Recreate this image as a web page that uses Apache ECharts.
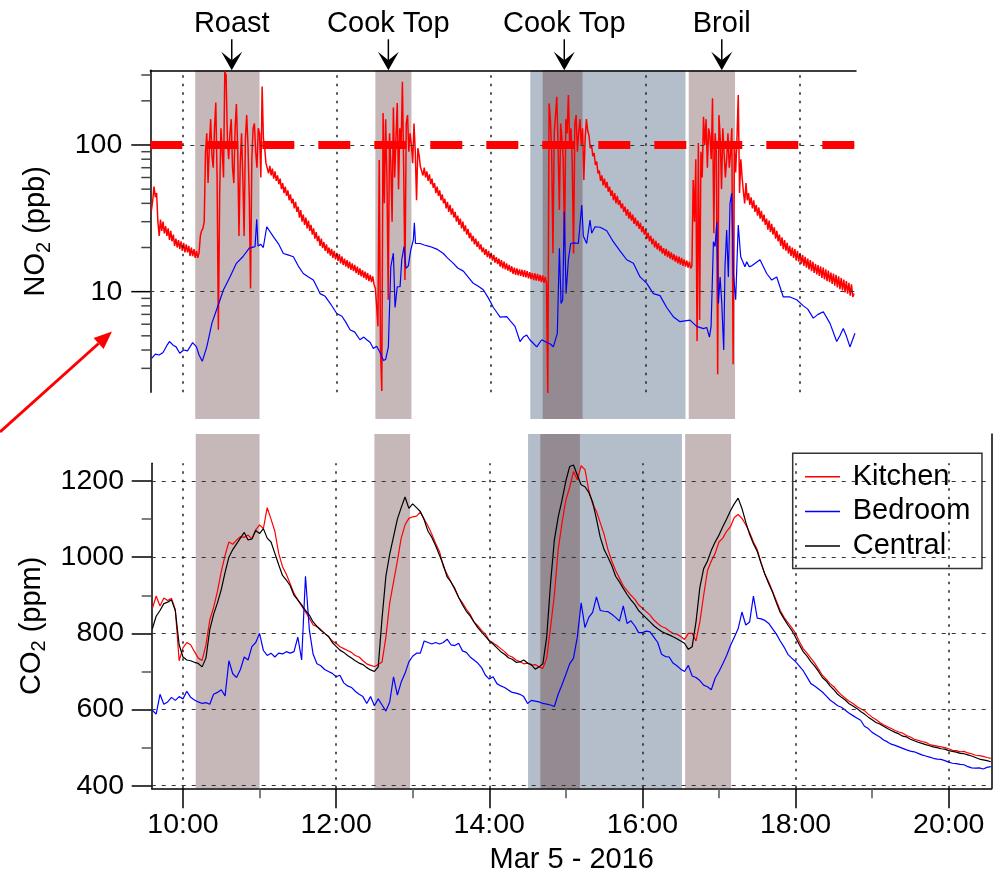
<!DOCTYPE html>
<html>
<head>
<meta charset="utf-8">
<title>Indoor NO2 and CO2 - Mar 5 2016</title>
<script src="https://cdn.jsdelivr.net/npm/echarts@6/dist/echarts.min.js"></script>
<style>
  html, body { margin: 0; padding: 0; background: #fff; }
  #chart { width: 1001px; height: 873px; }
</style>
</head>
<body>
<div id="chart"></div>
<script>
// Times are minutes after midnight on Mar 5, 2016.

// Kitchen NO2 (ppb), one reading per minute starting 09:36
const kitchenNO2Start = 576;
const kitchenNO2Step = 1;
const kitchenNO2 = [
  36, 42, 52, 44, 47, 30, 24, 31, 26, 30,
  25, 28, 24, 27, 22.5, 26, 22, 24.5, 20.5, 23,
  20, 22.5, 19.5, 22, 19, 21.5, 18.5, 21, 18.5, 20.5,
  17.5, 20, 17.5, 19.5, 17, 19, 17, 18.5, 24, 26,
  27, 30, 90, 120, 55, 100, 150, 85, 70, 130,
  195, 60, 5.5, 45, 130, 90, 60, 316, 300, 110,
  80, 120, 150, 70, 55, 130, 190, 95, 24, 75,
  120, 60, 24, 110, 160, 100, 45, 10.5, 80, 130,
  140, 90, 70, 130, 120, 60, 250, 110, 95, 75,
  74, 64, 72, 62, 69, 59, 66, 57, 62, 54,
  59, 50, 55, 47, 52, 45, 49, 42, 46, 40,
  43, 37, 41, 35, 38, 32, 36, 30, 33.5, 28.5,
  32, 27, 30.5, 26, 28.5, 24.5, 27, 23, 25.5, 22,
  24, 20.5, 23, 19.8, 21.8, 19, 21, 18.2, 20, 17.6,
  19.6, 17, 19, 16.6, 18.4, 16.2, 18, 15.6, 17.4, 15.2,
  16.8, 14.8, 16.4, 14.4, 16, 14.1, 15.6, 13.8, 15.2, 13.4,
  14.8, 13, 14.4, 12.7, 14, 12.4, 13.7, 12.1, 13.4, 11.8,
  13, 11.6, 12.7, 11.2, 10.5, 8, 5.8, 79, 4, 2.1,
  165, 40, 150, 60, 8.8, 120, 75, 30, 180, 60,
  110, 193, 50, 130, 95, 270, 70, 12, 140, 160,
  90, 120, 100, 75, 140, 90, 42, 95, 85, 71,
  72, 62, 70, 60, 66, 57, 63, 54, 59, 51,
  55, 47, 52, 45, 49, 42, 46, 40, 43, 37,
  41, 35, 39, 33.5, 37, 32, 35, 30, 33, 28.5,
  31.5, 27, 30, 25.8, 28.3, 24.5, 26.8, 23.2, 25.2, 22,
  24, 21, 23, 20.2, 22, 19.4, 21, 18.6, 20, 17.8,
  19.5, 17.2, 19, 16.8, 18.4, 16.3, 17.8, 15.8, 17.2, 15.4,
  16.8, 14.8, 16.4, 14.4, 16, 14.2, 15.6, 13.9, 15.2, 13.6,
  14.9, 13.2, 14.6, 13, 14.4, 12.9, 14.2, 12.8, 14.1, 12.6,
  14, 12.5, 13.8, 12.3, 13.6, 12.2, 13.4, 12, 13.3, 11.9,
  13.2, 11.8, 13, 11.6, 12.9, 11.5, 12.6, 11.4, 2.0, 192,
  150, 90, 18.3, 120, 160, 213, 95, 36, 140, 110,
  80, 20.3, 150, 120, 219, 100, 130, 75, 18.2, 140,
  160, 90, 120, 150, 100, 130, 57.7, 110, 150, 125,
  116, 95, 100, 84, 88, 73, 77, 64, 67, 57,
  62, 53, 59, 51, 56, 48, 52, 45, 49, 42,
  47, 40, 45, 39, 42, 37, 40, 35, 38, 33,
  36.5, 31.5, 35, 30.5, 33.5, 29, 32, 28, 30.5, 26.8,
  29.5, 25.5, 28, 24.5, 26.5, 23, 25.2, 22, 24, 21,
  23, 20, 22.2, 19.4, 21.4, 18.8, 20.6, 18.2, 19.8, 17.6,
  19.6, 17.2, 19, 16.8, 18.5, 16.4, 18, 16, 17.6, 15.6,
  17.3, 15.3, 17, 15, 16.6, 14.8, 16.3, 14.6, 16, 14.4,
  15, 57.7, 30, 80, 4.6, 103, 6.4, 90, 60, 156,
  100, 150, 70, 130, 114, 80, 208, 25, 120, 90,
  2.74, 160, 110, 50, 130, 88, 60, 80, 120, 70,
  88, 130, 3.2, 100, 65, 110, 219, 47, 80, 60,
  48, 40, 55, 42, 47, 39, 44, 37, 42, 35,
  39, 33, 37.5, 31.5, 35.5, 30, 33.5, 28.5, 31.5, 26.5,
  30.5, 25.5, 29, 24.5, 27.5, 23, 26, 22, 24.5, 20.5,
  23.5, 19.5, 22.5, 19, 21.5, 18.2, 20.5, 17.5, 20, 17,
  19.5, 16.3, 19, 16, 18.3, 15.5, 17.8, 15, 17.3, 14.6,
  16.8, 14.2, 16.4, 13.8, 16, 13.4, 15.5, 13.1, 15.2, 12.8,
  14.9, 12.4, 14.6, 12.1, 14.2, 11.8, 13.9, 11.6, 13.5, 11.3,
  13.3, 11, 13, 10.7, 12.7, 10.4, 12.4, 10.2, 12.1, 9.9,
  11.8, 9.7, 11.5, 9.4, 11.2, 9.2, 9.7
];

// Bedroom NO2 (ppb), irregular sampling
const bedroomNO2Time = [
  576, 579, 582, 585, 588, 590, 593, 595, 598, 601,
  604, 608, 611, 613, 615.5, 619, 623, 627, 632, 637,
  642, 647, 652, 656.5, 657.8, 658.8, 661, 662.9, 665.6, 670.7,
  675, 678.5, 682, 686.3, 690, 694, 698, 701.8, 704, 707,
  711, 715, 720, 724, 727, 730.3, 734, 738, 741, 743.3,
  746, 748.4, 751, 754, 756.2, 758, 760.1, 762, 764, 765.3,
  767, 769.2, 770.5, 772.3, 773.8, 775.6, 777.5, 779.5, 780.3, 781.2,
  784.7, 788, 792.5, 797.7, 802.8, 806, 810.6, 814, 818.4, 822,
  826.1, 830, 833.9, 838, 841.7, 845, 846.9, 852.1, 855, 858.5,
  862.4, 865, 867.6, 870, 872.7, 875.4, 879.3, 883.2, 886, 888.3,
  891.4, 893, 894.3, 895.6, 896.8, 898.2, 900, 901.8, 904.4, 907.7,
  909, 910.4, 911.6, 914.2, 916.8, 918.1, 920.7, 924.6, 929.8, 934.9,
  940.1, 945.3, 950.5, 955.7, 960.9, 966, 971.2, 976.4, 981.5, 986.7,
  991.9, 994.5, 999.7, 1004.9, 1007.5, 1009.6, 1010.9, 1012.7, 1014, 1015.3,
  1016.6, 1017.9, 1019.2, 1020.7, 1021.7, 1023, 1024.3, 1025.6, 1026.9, 1028.2,
  1030, 1032, 1033.9, 1037.2, 1038.6, 1040.5, 1042.5, 1048.9, 1054.1, 1058,
  1061.9, 1067, 1072.2, 1077.4, 1082.6, 1086, 1090.3, 1094, 1098.1, 1103.3,
  1108.5, 1111, 1113.6, 1116, 1118.8, 1122.7
];
const bedroomNO2 = [
  3.5, 3.75, 3.7, 3.85, 4.3, 4.57, 4.3, 4.22, 3.8, 4.0,
  3.95, 4.49, 4.2, 3.7, 3.35, 4.2, 6.1, 7.7, 10.3, 12.6,
  15.6, 17.3, 19.8, 20.3, 31.2, 20.5, 21, 20, 27.7, 23.7,
  21, 18.2, 17.8, 17.3, 15, 13.3, 12.6, 12, 11, 9.7,
  9.3, 8.3, 7.1, 6.8, 6.2, 5.5, 5.3, 4.7, 4.9, 4.7,
  4.5, 4.1, 4.25, 3.8, 3.4, 3.45, 4.2, 14.8, 18.3, 7.8,
  10.8, 10.8, 16.5, 20.3, 14.4, 15, 19.2, 22.5, 29.5, 21.3,
  21.3, 20.8, 20.3, 19.5, 18.2, 17, 15.6, 14.5, 13.8, 12.6,
  11.4, 10.9, 10.3, 9, 7.8, 7.1, 6.7, 6.75, 6.3, 5.8,
  4.57, 4.9, 5.06, 4.7, 4.45, 4.2, 4.7, 4.5, 4.4, 4.2,
  5.2, 19.8, 8.3, 8.8, 35.2, 9.7, 16.5, 21.3, 21.5, 21.3,
  28.5, 39, 24, 21.3, 30.8, 25, 27.7, 27.5, 26, 21.9,
  19, 16.5, 15.6, 12.6, 11.4, 9.7, 9.4, 7.8, 6.75, 6.24,
  6.35, 6.4, 5.8, 5.6, 5.7, 4.9, 5.8, 21.9, 20.3, 29.8,
  8.3, 12.6, 8.3, 4.0, 14.8, 26.3, 12.6, 40, 46.8, 13.3,
  8.8, 28.5, 17.3, 14.8, 16, 14.8, 15, 16.5, 13.3, 12,
  12.6, 9.2, 9.2, 8.8, 8, 7.6, 6.6, 7.0, 7.3, 6.08,
  4.57, 5.0, 5.6, 5.0, 4.2, 5.2
];

// CO2 (ppm), one reading every 3 minutes starting 09:36
const co2Start = 576;
const co2Step = 3;
const kitchenCO2 = [
  865, 898, 872, 893, 886, 892, 862, 728, 762, 776,
  770, 752, 735, 729, 770, 835, 868, 910, 962, 1005,
  1040, 1034, 1045, 1054, 1052, 1058, 1048, 1072, 1085, 1075,
  1130, 1100, 1068, 1010, 975, 955, 930, 905, 888, 872,
  856, 840, 822, 818, 810, 800, 792, 780, 774, 765,
  760, 755, 750, 742, 738, 728, 720, 716, 713, 718,
  725, 790, 880, 935, 990, 1050, 1085, 1102, 1106, 1108,
  1118, 1100, 1082, 1060, 1036, 1015, 975, 955, 935, 915,
  894, 880, 864, 850, 830, 820, 808, 798, 781, 775,
  768, 760, 752, 742, 738, 730, 726, 720, 722, 716,
  718, 712, 708, 735, 815, 900, 1020, 1090, 1150, 1183,
  1225, 1203, 1240, 1230, 1175, 1140, 1120, 1090, 1060, 1020,
  990, 965, 945, 925, 912, 900, 890, 875, 866, 857,
  848, 835, 826, 818, 814, 806, 800, 798, 792, 784,
  800, 800, 780, 830, 900, 965, 990, 1010, 1040, 1050,
  1068, 1080, 1104, 1112, 1102, 1085, 1065, 1040, 1020, 985,
  955, 935, 910, 885, 860, 842, 828, 815, 800, 778,
  760, 748, 735, 722, 706, 690, 680, 668, 660, 648,
  638, 630, 622, 616, 608, 602, 597, 588, 580, 574,
  566, 560, 555, 550, 545, 541, 538, 532, 528, 522,
  519, 516, 514, 508, 506, 504, 502, 500, 497, 493,
  492, 489, 490, 486, 484, 480, 479, 477, 474, 472
];
const bedroomCO2 = [
  598, 588, 640, 614, 620, 632, 624, 634, 628, 648,
  632, 625, 620, 616, 618, 614, 640, 645, 652, 636,
  728, 694, 684, 705, 738, 730, 765, 776, 800, 755,
  742, 748, 738, 748, 746, 752, 748, 752, 790, 730,
  950, 810, 745, 720, 715, 705, 700, 695, 686, 690,
  670, 662, 658, 648, 640, 634, 616, 634, 610, 628,
  612, 596, 620, 686, 638, 672, 695, 725, 740, 748,
  748, 780, 776, 772, 776, 772, 776, 785, 770, 768,
  774, 754, 750, 738, 730, 722, 710, 690, 680, 686,
  668, 662, 658, 651, 645, 643, 640, 634, 616, 624,
  622, 620, 616, 614, 612, 608, 640, 665, 692, 720,
  735, 790, 880, 815, 842, 855, 896, 860, 858, 857,
  850, 842, 832, 872, 826, 833, 820, 802, 802, 806,
  804, 790, 776, 745, 739, 738, 722, 715, 706, 700,
  716, 688, 684, 676, 664, 660, 652, 682, 700, 720,
  742, 768, 790, 812, 856, 822, 830, 898, 840, 838,
  834, 826, 812, 798, 780, 764, 745, 735, 726, 714,
  702, 685, 668, 662, 654, 646, 636, 625, 618, 610,
  606, 598, 590, 584, 578, 572, 556, 550, 540, 534,
  528, 520, 515, 509, 506, 502, 498, 494, 491, 489,
  485, 481, 478, 475, 472, 470, 469, 466, 462, 459,
  458, 456, 455, 450, 447, 446, 447, 444, 448, 450
];
const centralCO2 = [
  812, 845, 860, 878, 882, 888, 860, 770, 738, 730,
  728, 724, 721, 712, 735, 810, 850, 880, 915, 960,
  1000, 1020, 1035, 1050, 1065, 1045, 1048, 1070, 1062, 1075,
  1050, 1040, 1010, 980, 952, 940, 925, 900, 888, 875,
  860, 848, 830, 818, 808, 800, 792, 776, 766, 756,
  750, 742, 735, 728, 722, 718, 710, 704, 700, 712,
  840, 950, 1008, 1054, 1100, 1130, 1158, 1128, 1140, 1130,
  1120, 1098, 1068, 1052, 1030, 1005, 980, 948, 935, 918,
  895, 875, 858, 846, 830, 815, 803, 792, 780, 772,
  762, 752, 745, 736, 732, 724, 725, 730, 722, 718,
  706, 712, 720, 790, 930, 1045, 1105, 1150, 1200, 1238,
  1242, 1215, 1190, 1185, 1170, 1145, 1100, 1052, 1020, 1000,
  978, 950, 935, 918, 902, 888, 876, 860, 850, 840,
  830, 820, 812, 805, 800, 796, 791, 786, 780, 774,
  758, 765, 830, 920, 970, 990, 1018, 1040, 1058, 1080,
  1100, 1122, 1140, 1155, 1128, 1092, 1060, 1035, 1015, 984,
  955, 930, 908, 880, 855, 838, 822, 808, 790, 770,
  752, 740, 726, 714, 700, 684, 675, 662, 652, 640,
  632, 625, 615, 609, 603, 595, 588, 580, 573, 566,
  562, 556, 550, 545, 540, 536, 530, 528, 522, 518,
  514, 511, 508, 505, 502, 500, 497, 496, 492, 490,
  488, 485, 484, 481, 478, 474, 470, 468, 466, 463
];

// Cooking events (start, end) and the longer shaded period around the second cook-top use
const cookingPeriods = [[610, 660], [750, 778], [880, 911], [993.5, 1029.5]];
const shadedPeriods = [[870.4, 991]];

// Event annotations above the NO2 panel
const eventTimes = [638.4, 760.1, 896.8, 1019.2];
const eventLabels = ['Roast', 'Cook Top', 'Cook Top', 'Broil'];

// Axis ranges and ticks
const topTimeRange = [575.1, 1123.5];
const bottomTimeRange = [575.5, 1233.7];
const no2Range = [2.06, 323];
const co2Range = [393.2, 1246.5];
const hourTicks = [600, 720, 840, 960, 1080, 1200];
const halfHourTicks = [660, 780, 900, 1020, 1140];
const no2MajorTicks = [10, 100];
const no2MinorTicks = [3, 4, 5, 6, 7, 8, 9, 20, 30, 40, 50, 60, 70, 80, 90, 200, 300];
const co2MajorTicks = [400, 600, 800, 1000, 1200];
const co2MinorTicks = [500, 700, 900, 1100];
const no2Limit = 100;

const FONT = '"Liberation Sans", Arial, Helvetica, sans-serif';
const BAND_BROWN = '#c6b8b9';
const BAND_BLUE = '#b4bdca';
const BAND_DARK = '#948a91';

const hourLabel = v => Math.round(v / 60) + ':00';

const kitchenNO2Data = kitchenNO2.map((v, i) => [kitchenNO2Start + i * kitchenNO2Step, v]);
const bedroomNO2Data = bedroomNO2Time.map((t, i) => [t, bedroomNO2[i]]);
const co2Data = arr => arr.map((v, i) => [co2Start + i * co2Step, v]);

// Shaded bands: the long period first, cooking periods on top (darker where they overlap)
function bandAreas() {
  const areas = shadedPeriods.map(p => [{ xAxis: p[0], itemStyle: { color: BAND_BLUE } }, { xAxis: p[1] }]);
  cookingPeriods.forEach(p => {
    const inside = shadedPeriods.some(s => p[0] >= s[0] && p[1] <= s[1]);
    areas.push([{ xAxis: p[0], itemStyle: { color: inside ? BAND_DARK : BAND_BROWN } }, { xAxis: p[1] }]);
  });
  return areas;
}

const hGrid = { color: '#333', width: 1.2, type: [4, 6] };
const vGrid = { color: '#222', width: 1.5, type: [2.5, 6] };

const nameRich = {
  m: { fontSize: 29, fontFamily: FONT, color: '#000', lineHeight: 36 },
  s: { fontSize: 20, fontFamily: FONT, color: '#000', verticalAlign: 'bottom', lineHeight: 20 }
};

const chart = echarts.init(document.getElementById('chart'), null, { renderer: 'canvas' });

const option = {
  animation: false,
  backgroundColor: '#fff',
  textStyle: { fontFamily: FONT },
  grid: [
    { left: 150.3, top: 70.3, width: 705.7, height: 322, outerBoundsMode: 'none' },   // NO2 plot
    { left: 150.3, top: 70.3, width: 705.7, height: 348.7, outerBoundsMode: 'none' }, // NO2 bands
    { left: 151.7, top: 463.3, width: 840, height: 325, outerBoundsMode: 'none' },    // CO2 plot
    { left: 151.7, top: 434, width: 840, height: 354.3, outerBoundsMode: 'none' }     // CO2 bands
  ],
  xAxis: [
    {
      gridIndex: 0, type: 'value', position: 'top', min: topTimeRange[0], max: topTimeRange[1],
      axisLine: { show: true, onZero: false, lineStyle: { color: '#000', width: 1.5 } },
      axisTick: { show: false }, axisLabel: { show: false }, splitLine: { show: false }
    },
    { gridIndex: 1, type: 'value', show: false, min: topTimeRange[0], max: topTimeRange[1] },
    {
      gridIndex: 2, type: 'value', position: 'bottom', min: bottomTimeRange[0], max: bottomTimeRange[1],
      axisLine: { show: true, onZero: false, lineStyle: { color: '#000', width: 1.5 } },
      axisTick: { show: true, inside: false, length: 20, customValues: hourTicks, lineStyle: { color: '#000', width: 1.5 } },
      axisLabel: { customValues: hourTicks, formatter: hourLabel, fontSize: 28.5, fontFamily: FONT, color: '#000', margin: 22.8 },
      splitLine: { show: false },
      name: 'Mar 5 - 2016', nameLocation: 'middle', nameGap: 57,
      nameTextStyle: { fontSize: 29, fontFamily: FONT, color: '#000' }
    },
    {
      gridIndex: 2, type: 'value', position: 'bottom', min: bottomTimeRange[0], max: bottomTimeRange[1],
      axisLine: { show: false, onZero: false },
      axisTick: { show: true, inside: false, length: 10, customValues: halfHourTicks, lineStyle: { color: '#555', width: 1.5 } },
      axisLabel: { show: false }, splitLine: { show: false }
    },
    { gridIndex: 3, type: 'value', show: false, min: bottomTimeRange[0], max: bottomTimeRange[1] }
  ],
  yAxis: [
    {
      gridIndex: 0, type: 'log', logBase: 10, min: no2Range[0], max: no2Range[1], position: 'left',
      axisLine: { show: true, onZero: false, lineStyle: { color: '#000', width: 1.5 } },
      axisTick: { show: false },
      axisLabel: {
        fontSize: 28.5, fontFamily: FONT, color: '#000', margin: 28,
        formatter: v => (no2MajorTicks.some(t => Math.abs(t - v) < 1e-6) ? String(Math.round(v)) : '')
      },
      splitLine: { show: false }, minorTick: { show: false },
      name: '{m|NO}{s|2}{m| (ppb)}', nameLocation: 'middle', nameGap: 96, nameRotate: 90,
      nameTextStyle: { rich: nameRich }
    },
    { gridIndex: 1, type: 'value', show: false, min: 0, max: 1 },
    {
      gridIndex: 2, type: 'value', min: co2Range[0], max: co2Range[1], position: 'left',
      axisLine: { show: true, onZero: false, lineStyle: { color: '#000', width: 1.5 } },
      axisTick: { show: true, length: 20, customValues: co2MajorTicks, lineStyle: { color: '#000', width: 1.5 } },
      axisLabel: { customValues: co2MajorTicks, formatter: v => String(v), fontSize: 28.5, fontFamily: FONT, color: '#000', margin: 27.7 },
      splitLine: { show: false },
      name: '{m|CO}{s|2}{m| (ppm)}', nameLocation: 'middle', nameGap: 96, nameRotate: 90,
      nameTextStyle: { rich: nameRich }
    },
    {
      gridIndex: 2, type: 'value', min: co2Range[0], max: co2Range[1], position: 'left',
      axisLine: { show: false, onZero: false },
      axisTick: { show: true, length: 10, customValues: co2MinorTicks, lineStyle: { color: '#555', width: 1.5 } },
      axisLabel: { show: false }, splitLine: { show: false }
    },
    {
      gridIndex: 3, type: 'value', min: 0, max: 1, position: 'right',
      axisLine: { show: true, onZero: false, lineStyle: { color: '#000', width: 1.5 } },
      axisTick: { show: false }, axisLabel: { show: false }, splitLine: { show: false }
    }
  ],
  legend: {
    data: ['Kitchen', 'Bedroom', 'Central'],
    orient: 'vertical', left: 792.7, top: 453.3,
    padding: [7.4, 11.6, 6.3, 12.3],
    icon: 'rect', itemWidth: 35, itemHeight: 1.5, itemGap: 2.7,
    backgroundColor: '#fff', borderColor: '#333', borderWidth: 1.5, borderRadius: 0,
    selectedMode: false,
    textStyle: { fontSize: 29, fontFamily: FONT, color: '#000', lineHeight: 32, padding: [0, 0, 0, 7.7] }
  },
  graphic: [
    // red pointer toward the NO2 axis
    { type: 'line', silent: true, shape: { x1: 0, y1: 432, x2: 98.6, y2: 343.5 }, style: { stroke: '#ff0000', lineWidth: 3 } },
    { type: 'polygon', silent: true, shape: { points: [[112, 331.5], [93.6, 337.9], [103.6, 349.1]] }, style: { fill: '#ff0000' } }
  ],
  series: [
    // shaded periods behind the NO2 panel
    {
      type: 'line', name: 'bands-top', xAxisIndex: 1, yAxisIndex: 1, data: [], z: 0, silent: true,
      markArea: { silent: true, z: 0, label: { show: false }, data: bandAreas() }
    },
    // shaded periods behind the CO2 panel
    {
      type: 'line', name: 'bands-bottom', xAxisIndex: 4, yAxisIndex: 4, data: [], z: 0, silent: true,
      markArea: { silent: true, z: 0, label: { show: false }, data: bandAreas() }
    },
    // NO2 panel grid lines
    {
      type: 'line', name: 'grid-top', xAxisIndex: 0, yAxisIndex: 0, data: [], z: 1, silent: true,
      markLine: {
        silent: true, symbol: ['none', 'none'], label: { show: false }, emphasis: { disabled: true },
        data: no2MajorTicks.map(v => ({ yAxis: v, lineStyle: hGrid }))
          .concat(hourTicks.filter(h => h < topTimeRange[1]).map(h => ({ xAxis: h, lineStyle: vGrid })))
      }
    },
    // CO2 panel grid lines
    {
      type: 'line', name: 'grid-bottom', xAxisIndex: 2, yAxisIndex: 2, data: [], z: 1, silent: true,
      markLine: {
        silent: true, symbol: ['none', 'none'], label: { show: false }, emphasis: { disabled: true },
        data: co2MajorTicks.map(v => ({ yAxis: v, lineStyle: hGrid }))
          .concat(hourTicks.map(h => ({ xAxis: h, lineStyle: vGrid })))
      }
    },
    // 100 ppb reference level
    {
      type: 'line', name: 'limit', xAxisIndex: 0, yAxisIndex: 0, data: [], z: 1.5, silent: true,
      markLine: {
        silent: true, symbol: ['none', 'none'], label: { show: false }, emphasis: { disabled: true },
        data: [{ yAxis: no2Limit, lineStyle: { color: '#ff0000', width: 8, type: [32, 24] } }]
      }
    },
    {
      type: 'line', name: 'Kitchen NO2', xAxisIndex: 0, yAxisIndex: 0, data: kitchenNO2Data,
      symbol: 'none', showSymbol: false, z: 2, silent: true,
      lineStyle: { color: '#ff0000', width: 1.5 }
    },
    {
      type: 'line', name: 'Bedroom NO2', xAxisIndex: 0, yAxisIndex: 0, data: bedroomNO2Data,
      symbol: 'none', showSymbol: false, z: 2, silent: true,
      lineStyle: { color: '#0000ff', width: 1.2 }
    },
    {
      type: 'line', name: 'Kitchen', xAxisIndex: 2, yAxisIndex: 2, data: co2Data(kitchenCO2),
      symbol: 'none', showSymbol: false, z: 2, silent: true, color: '#ff0000',
      lineStyle: { color: '#ff0000', width: 1.2 }
    },
    {
      type: 'line', name: 'Bedroom', xAxisIndex: 2, yAxisIndex: 2, data: co2Data(bedroomCO2),
      symbol: 'none', showSymbol: false, z: 2, silent: true, color: '#0000ff',
      lineStyle: { color: '#0000ff', width: 1.2 }
    },
    {
      type: 'line', name: 'Central', xAxisIndex: 2, yAxisIndex: 2, data: co2Data(centralCO2),
      symbol: 'none', showSymbol: false, z: 2, silent: true, color: '#000000',
      lineStyle: { color: '#000000', width: 1.2 }
    },
    // NO2 axis ticks (decades long, intermediate values short)
    {
      type: 'custom', name: 'no2-ticks', xAxisIndex: 0, yAxisIndex: 0, clip: false, silent: true, z: 5,
      data: no2MajorTicks.concat(no2MinorTicks).map(v => [topTimeRange[0], v]),
      renderItem(params, api) {
        const v = api.value(1);
        const p = api.coord([api.value(0), v]);
        const major = no2MajorTicks.indexOf(v) >= 0;
        const len = major ? 19 : 9;
        return {
          type: 'line',
          shape: { x1: p[0] - len, y1: p[1], x2: p[0], y2: p[1] },
          style: { stroke: major ? '#000' : '#444', lineWidth: 1.5 }
        };
      }
    },
    // event labels with arrows pointing at the top of the NO2 panel
    {
      type: 'custom', name: 'events', xAxisIndex: 0, yAxisIndex: 0, clip: false, silent: true, z: 5,
      data: eventTimes.map(t => [t, no2Range[1]]),
      renderItem(params, api) {
        const p = api.coord([api.value(0), api.value(1)]);
        const x = p[0], y = p[1];
        return {
          type: 'group',
          children: [
            { type: 'text', style: { text: eventLabels[params.dataIndex], x: x, y: y - 46.8, align: 'center', verticalAlign: 'middle', fontSize: 29, fontFamily: FONT, fill: '#000' } },
            { type: 'line', shape: { x1: x, y1: y - 31, x2: x, y2: y - 10 }, style: { stroke: '#000', lineWidth: 1.5 } },
            { type: 'polygon', shape: { points: [[x, y], [x - 10.5, y - 18.6], [x, y - 10], [x + 10.5, y - 18.6]] }, style: { fill: '#000' } }
          ]
        };
      }
    }
  ]
};

chart.setOption(option);
</script>
</body>
</html>
